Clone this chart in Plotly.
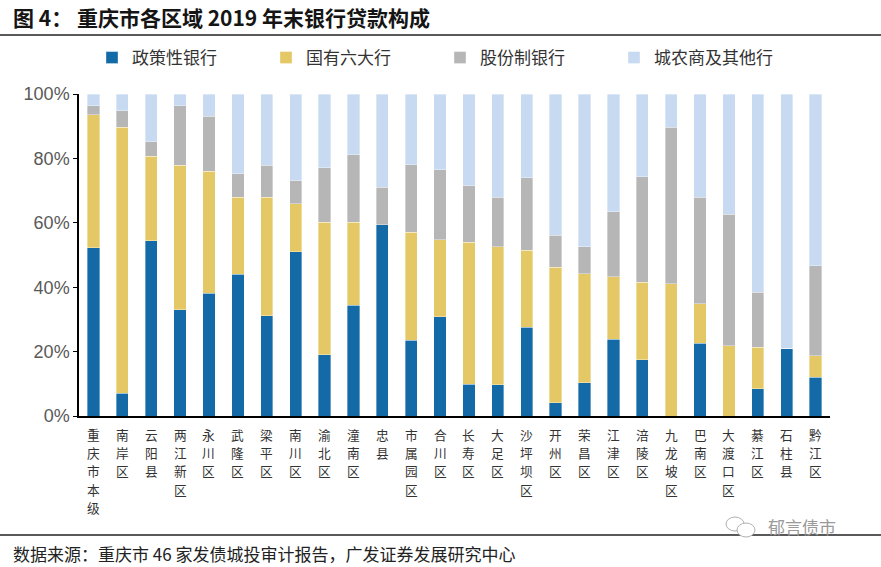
import plotly.graph_objects as go

districts = ["重庆市本级", "南岸区", "云阳县", "两江新区", "永川区", "武隆区", "梁平区", "南川区",
             "渝北区", "潼南区", "忠县", "市属园区", "合川区", "长寿区", "大足区", "沙坪坝区",
             "开州区", "荣昌区", "江津区", "涪陵区", "九龙坡区", "巴南区", "大渡口区", "綦江区",
             "石柱县", "黔江区"]
policy_banks = [52.2, 7.0, 54.4, 33.0, 38.1, 44.1, 31.1, 51.0, 19.0, 34.4, 59.4, 23.6, 30.9,
                9.8, 9.7, 27.6, 4.1, 10.3, 23.8, 17.4, 0.0, 22.6, 0.0, 8.5, 21.0, 12.0]
big_six = [41.4, 82.7, 26.2, 44.9, 37.9, 23.9, 36.9, 14.9, 41.2, 25.8, 0.0, 33.4, 23.8,
           44.2, 42.8, 23.9, 42.1, 33.9, 19.5, 24.1, 41.1, 12.2, 21.8, 12.8, 0.0, 6.7]
joint_stock = [2.8, 5.1, 4.6, 18.5, 17.1, 7.2, 9.9, 7.2, 16.9, 20.9, 11.6, 21.0, 21.8,
               17.5, 15.4, 22.5, 9.9, 8.4, 20.2, 32.8, 48.5, 33.1, 40.8, 17.2, 0.0, 28.0]
others = [round(100 - a - b - c, 1) for a, b, c in zip(policy_banks, big_six, joint_stock)]

series_names = ["政策性银行", "国有六大行", "股份制银行", "城农商及其他行"]
series_values = [policy_banks, big_six, joint_stock, others]
colors = ["#136AA6", "#E5C866", "#B6B6B6", "#C8DAF1"]

title_text = "图 4：\u00a0重庆市各区域\u00a02019\u00a0年末银行贷款构成"
source_text = "数据来源：重庆市\u00a046\u00a0家发债城投审计报告，广发证券发展研究中心"
watermark_text = "郁言债市"

FONT = "Noto Sans CJK SC"

# plot area geometry (pixels)
L, R, T, B = 79, 830, 94, 416
PW, PH = R - L, B - T


def px(xp):
    return (xp - L) / PW


def py(yp):
    return (B - yp) / PH


fig = go.Figure()
for name, vals, col in zip(series_names, series_values, colors):
    fig.add_trace(go.Bar(
        x=districts, y=[v / 100 for v in vals], name=name,
        marker=dict(color=col, line=dict(color="rgba(255,255,255,0.6)", width=0.6)),
    ))

annotations = [
    dict(text="<b>" + title_text + "</b>", xref="paper", yref="paper",
         x=px(11), y=py(16.5), xanchor="left", yanchor="middle",
         showarrow=False, font=dict(family=FONT, size=21, color="#151515")),
    dict(text=source_text, xref="paper", yref="paper", x=px(11), y=py(553),
         xanchor="left", yanchor="middle", showarrow=False,
         font=dict(family=FONT, size=17, color="#222222")),
    dict(text=watermark_text, xref="paper", yref="paper", x=px(766), y=py(526),
         xanchor="left", yanchor="middle", showarrow=False,
         font=dict(family=FONT, size=17, color="#9a9a9a")),
]

# vertical (one character per line) category labels under the x axis
ROW0, ROWSTEP, LBLSIZE = 434, 18.4, 12.7
for d in districts:
    for i, ch in enumerate(d):
        annotations.append(dict(
            text=ch, xref="x", yref="paper", x=d, y=py(ROW0 + i * ROWSTEP),
            xanchor="center", yanchor="middle", showarrow=False,
            font=dict(family=FONT, size=LBLSIZE, color="#333333")))

fig.update_layout(
    barmode="stack",
    bargap=0.575,
    width=881, height=567,
    margin=dict(l=L, r=881 - R, t=T, b=567 - B),
    paper_bgcolor="white", plot_bgcolor="white",
    font=dict(family=FONT, color="#404040"),
    showlegend=True,
    legend=dict(orientation="h", x=px(92), xanchor="left", y=py(58),
                yanchor="middle", font=dict(size=17, color="#333333"),
                entrywidth=129, itemwidth=30, traceorder="normal"),
    xaxis=dict(tickmode="array", tickvals=districts, showticklabels=False,
               showline=True, linecolor="black", linewidth=1.5, ticks="",
               showgrid=False, fixedrange=True),
    yaxis=dict(range=[0, 1], tickvals=[0, 0.2, 0.4, 0.6, 0.8, 1.0], tickformat=".0%",
               tickfont=dict(family="Arial, Liberation Sans", size=18, color="#595959"),
               showline=True, linecolor="black", linewidth=1.5, ticks="outside",
               ticklen=4, tickcolor="black", showgrid=False, zeroline=False,
               fixedrange=True),
    annotations=annotations,
    shapes=[
        dict(type="line", xref="paper", yref="paper", x0=px(0), x1=px(881),
             y0=py(35), y1=py(35), line=dict(color="#222222", width=1.5)),
        dict(type="line", xref="paper", yref="paper", x0=px(0), x1=px(881),
             y0=py(535), y1=py(535), line=dict(color="#222222", width=1.5)),
        dict(type="circle", xref="paper", yref="paper", x0=px(726), x1=px(744),
             y0=py(531), y1=py(517), line=dict(color="#b0b0b0", width=1)),
        dict(type="circle", xref="paper", yref="paper", x0=px(737), x1=px(755),
             y0=py(537), y1=py(523), line=dict(color="#b0b0b0", width=1),
             fillcolor="white"),
    ],
)

fig.write_html("out.html",
               config={"displayModeBar": False},
               post_script="document.body.style.margin='0';"
                           "document.body.style.overflow='hidden';")
